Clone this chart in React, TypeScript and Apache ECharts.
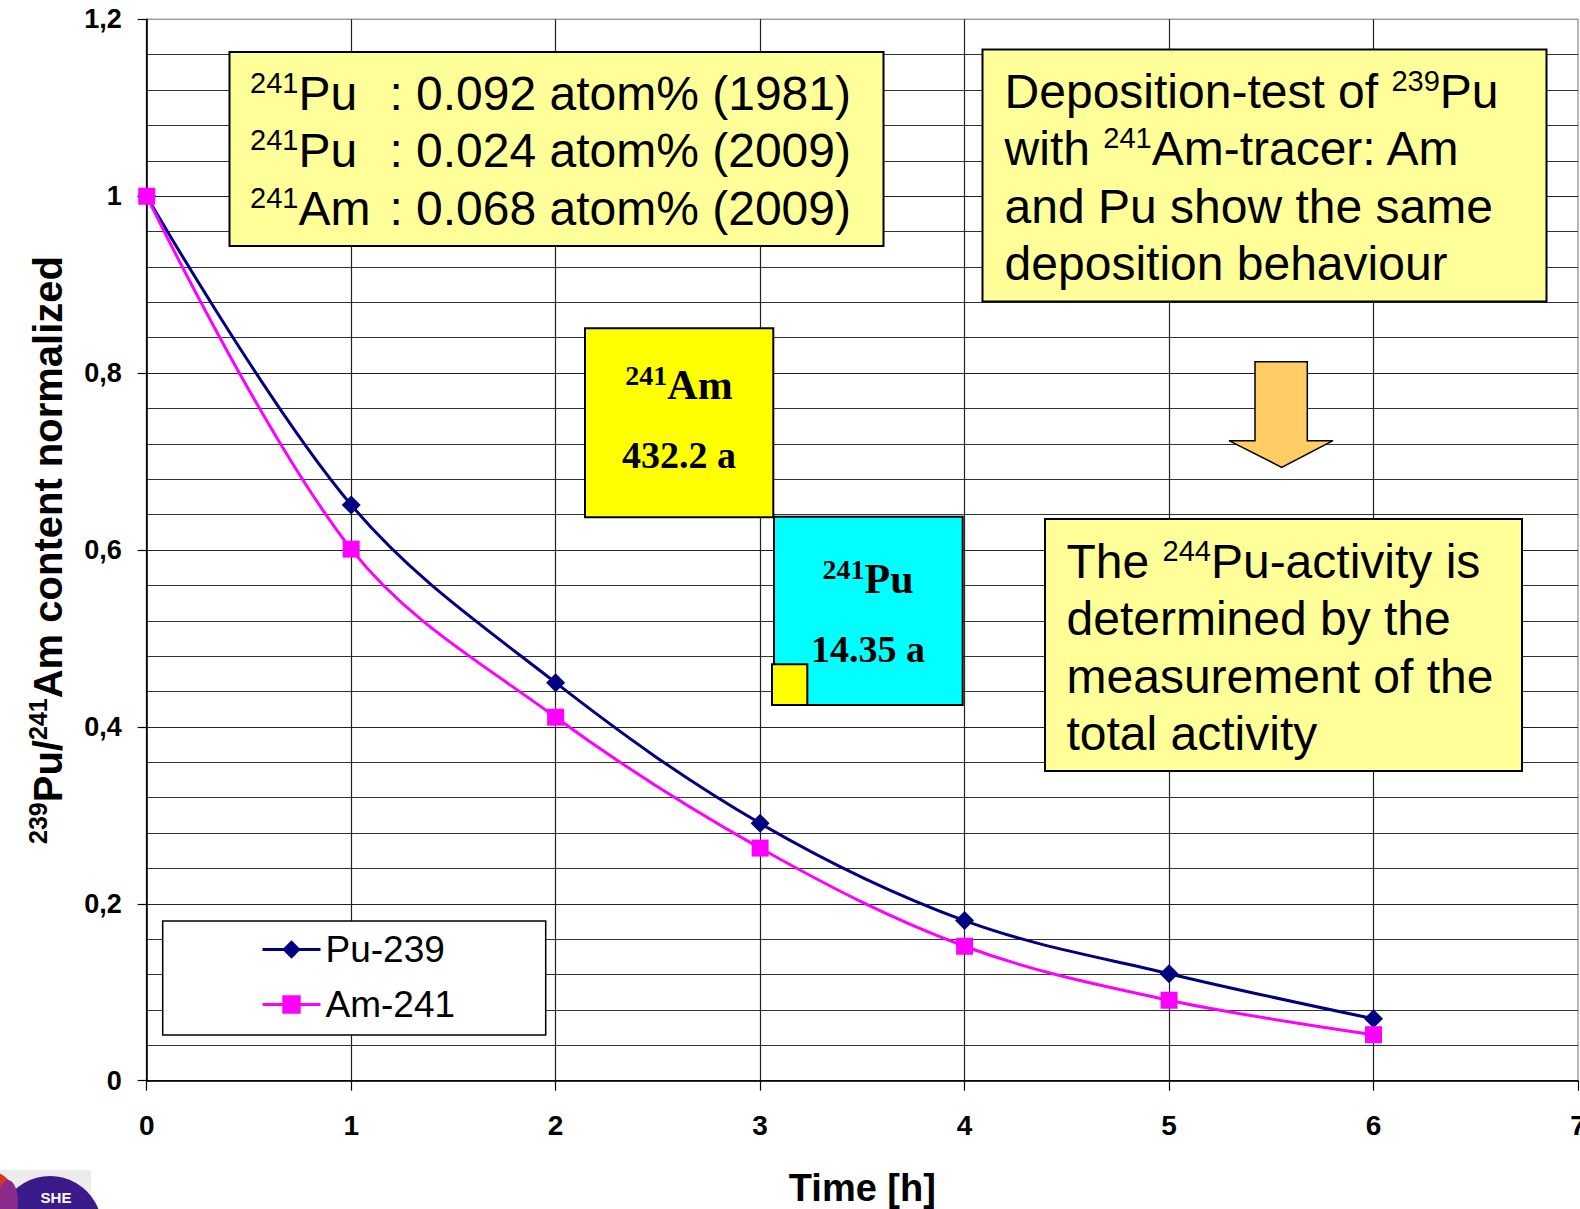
import React, { useEffect, useRef } from 'react';
import * as echarts from 'echarts';

const FONT_SANS = '"Liberation Sans", Arial, sans-serif';
const FONT_SERIF = '"Liberation Serif", "Times New Roman", serif';

// ---- data ----
const timeHours = [0, 1, 2, 3, 4, 5, 6];
const pu239Values = [1, 0.651, 0.45, 0.291, 0.181, 0.121, 0.07];
const am241Values = [1, 0.601, 0.411, 0.263, 0.152, 0.091, 0.052];
const seriesNames = ['Pu-239', 'Am-241'];
const yTickLabels = ['0', '0,2', '0,4', '0,6', '0,8', '1', '1,2'];
const xTickLabels = ['0', '1', '2', '3', '4', '5', '6', '7'];

const isotopeLines = [
  { sup: '241', el: 'Pu', rest: ': 0.092 atom% (1981)' },
  { sup: '241', el: 'Pu', rest: ': 0.024 atom% (2009)' },
  { sup: '241', el: 'Am', rest: ': 0.068 atom% (2009)' },
];
const depositionLines = [
  'Deposition-test of {s|239}Pu',
  'with {s|241}Am-tracer: Am',
  'and Pu show the same',
  'deposition behaviour',
];
const activityLines = [
  'The {s|244}Pu-activity is',
  'determined by the',
  'measurement of the',
  'total activity',
];
const amHalfLife = { sup: '241', el: 'Am', value: '432.2 a' };
const puHalfLife = { sup: '241', el: 'Pu', value: '14.35 a' };

const NOTE_FS = 48;
const supRich = { fontSize: 29, lineHeight: 34, verticalAlign: 'top', fontFamily: FONT_SANS, fill: '#000' };

function noteLines(lines: string[], x: number, y0: number, pitch: number) {
  return lines.map((t, i) => ({
    type: 'text',
    x,
    y: y0 + i * pitch,
    z: 7,
    style: {
      text: t,
      fontSize: NOTE_FS,
      fontFamily: FONT_SANS,
      fill: '#000',
      lineHeight: 50,
      align: 'left',
      verticalAlign: 'middle',
      rich: { s: supRich },
    },
  }));
}

function boxRect(x: number, y: number, w: number, h: number, fill: string, z = 6) {
  return {
    type: 'rect',
    z,
    shape: { x, y, width: w, height: h },
    style: { fill, stroke: '#000', lineWidth: 2 },
  };
}

function halfLifeTexts(d: { sup: string; el: string; value: string }, cx: number, y1: number, y2: number) {
  return [
    {
      type: 'text',
      x: cx,
      y: y1,
      z: 8,
      style: {
        text: `{s|${d.sup}}{m|${d.el}}`,
        align: 'center',
        verticalAlign: 'middle',
        rich: {
          s: { fontSize: 28, fontWeight: 'bold', fontFamily: FONT_SERIF, lineHeight: 31, verticalAlign: 'top', fill: '#000' },
          m: { fontSize: 42, fontWeight: 'bold', fontFamily: FONT_SERIF, lineHeight: 48, fill: '#000' },
        },
      },
    },
    {
      type: 'text',
      x: cx,
      y: y2,
      z: 8,
      style: {
        text: d.value,
        fontSize: 38,
        fontWeight: 'bold',
        fontFamily: FONT_SERIF,
        fill: '#000',
        align: 'center',
        verticalAlign: 'middle',
      },
    },
  ];
}

export default function App() {
  const ref = useRef<HTMLDivElement>(null);

  useEffect(() => {
    if (!ref.current) return;
    const chart = echarts.init(ref.current, undefined, { renderer: 'svg' });

    const graphic: any[] = [
      // info box 1
      boxRect(229.5, 52, 654, 194, '#FFFF99'),
      ...isotopeLines.map((l, i) => ({
        type: 'text',
        x: 250,
        y: 93.3 + i * 57.5,
        z: 7,
        style: {
          text: `{s|${l.sup}}{i|${l.el}}{t|${l.rest}}`,
          align: 'left',
          verticalAlign: 'middle',
          rich: {
            s: supRich,
            i: { fontSize: NOTE_FS, lineHeight: 50, width: 91, fontFamily: FONT_SANS, fill: '#000' },
            t: { fontSize: NOTE_FS, lineHeight: 50, fontFamily: FONT_SANS, fill: '#000' },
          },
        },
      })),
      // box 2
      boxRect(982.5, 49.4, 564, 252, '#FFFF99'),
      ...noteLines(depositionLines, 1004.6, 91, 57.5),
      // box 3
      boxRect(1045, 519, 477, 252, '#FFFF99'),
      ...noteLines(activityLines, 1066.5, 561, 57.5),
      // half-life boxes
      boxRect(585, 328.3, 188.3, 189, '#FFFF00'),
      ...halfLifeTexts(amHalfLife, 679, 385, 455),
      boxRect(774, 516.7, 188.7, 188.3, '#00FFFF'),
      ...halfLifeTexts(puHalfLife, 868, 579, 649),
      boxRect(772, 664.3, 35.3, 40.7, '#FFFF00', 9),
      // arrow
      {
        type: 'polygon',
        z: 6,
        shape: {
          points: [
            [1255, 361.7], [1307.3, 361.7], [1307.3, 440.7], [1333, 440.7],
            [1281.7, 467.3], [1229, 440.7], [1255, 440.7],
          ],
        },
        style: { fill: '#FFCC66', stroke: '#000', lineWidth: 1.5 },
      },
      // legend box
      {
        type: 'rect',
        z: 6,
        shape: { x: 162.7, y: 921, width: 383, height: 114 },
        style: { fill: '#fff', stroke: '#000', lineWidth: 1.5 },
      },
      // logo
      { type: 'rect', z: 6, shape: { x: 0, y: 1170, width: 91, height: 39 }, style: { fill: '#ececec' } },
      { type: 'circle', z: 6, shape: { cx: -14, cy: 1200, r: 30 }, style: { fill: '#d9351f' } },
      { type: 'circle', z: 7, shape: { cx: 50, cy: 1228, r: 52 }, style: { fill: '#3b1a8a' } },
      { type: 'ellipse', z: 8, shape: { cx: 8, cy: 1202, rx: 10, ry: 22 }, style: { fill: '#8a2a8c' } },
      {
        type: 'text',
        z: 9,
        x: 56,
        y: 1197,
        style: { text: 'SHE', fontSize: 15, fontWeight: 'bold', fontFamily: FONT_SANS, fill: '#fff', align: 'center', verticalAlign: 'middle' },
      },
    ];

    chart.setOption({
      animation: false,
      backgroundColor: '#fff',
      grid: {
        left: 146.7,
        right: 2,
        top: 19.3,
        bottom: 128.3,
        show: true,
        borderColor: '#a0a0a0',
        borderWidth: 1.5,
        outerBoundsMode: 'none',
        containLabel: false,
      },
      legend: {
        orient: 'vertical',
        left: 261,
        top: 931,
        padding: 0,
        itemGap: 18,
        itemWidth: 58,
        itemHeight: 23,
        z: 10,
        lineStyle: { width: 3 },
        textStyle: { fontSize: 37, fontFamily: FONT_SANS, color: '#000' },
        data: seriesNames,
      },
      xAxis: {
        type: 'value',
        min: 0,
        max: 7,
        interval: 1,
        name: 'Time [h]',
        nameLocation: 'middle',
        nameGap: 88,
        nameTextStyle: { fontSize: 38, fontWeight: 'bold', fontFamily: FONT_SANS, color: '#000' },
        axisLine: { show: true, onZero: false, lineStyle: { color: '#000', width: 1.5 } },
        axisTick: { show: true, length: 10, lineStyle: { color: '#000', width: 1.2 } },
        axisLabel: {
          margin: 31,
          fontSize: 28,
          fontWeight: 'bold',
          fontFamily: FONT_SANS,
          color: '#000',
          formatter: (v: number) => xTickLabels[Math.round(v)] ?? String(v),
        },
        splitLine: { show: true, showMaxLine: false, lineStyle: { color: '#222', width: 1.2 } },
      },
      yAxis: {
        type: 'value',
        min: 0,
        max: 1.2,
        interval: 0.2,
        name: '{s|239}Pu/{s|241}Am content normalized',
        nameLocation: 'middle',
        nameRotate: 90,
        nameGap: 77,
        nameTextStyle: {
          fontSize: 40,
          fontWeight: 'bold',
          fontFamily: FONT_SANS,
          color: '#000',
          lineHeight: 44,
          rich: {
            s: { fontSize: 25, fontWeight: 'bold', fontFamily: FONT_SANS, lineHeight: 8, verticalAlign: 'top', color: '#000' },
          },
        },
        axisLine: { show: true, lineStyle: { color: '#000', width: 1.5 } },
        axisTick: { show: true, length: 9, lineStyle: { color: '#000', width: 1.2 } },
        minorTick: { show: false, splitNumber: 5 },
        minorSplitLine: { show: true, lineStyle: { color: '#333', width: 1.2 } },
        axisLabel: {
          margin: 25,
          fontSize: 27,
          fontWeight: 'bold',
          fontFamily: FONT_SANS,
          color: '#000',
          formatter: (v: number) => yTickLabels[Math.round(v / 0.2)] ?? String(v),
        },
        splitLine: { show: true, showMaxLine: false, lineStyle: { color: '#222', width: 1.2 } },
      },
      series: [
        {
          name: seriesNames[0],
          type: 'line',
          data: timeHours.map((t, i) => [t, pu239Values[i]]),
          smooth: 0.35,
          symbol: 'diamond',
          symbolSize: 19,
          lineStyle: { color: '#000080', width: 3 },
          itemStyle: { color: '#000080' },
          z: 3,
        },
        {
          name: seriesNames[1],
          type: 'line',
          data: timeHours.map((t, i) => [t, am241Values[i]]),
          smooth: 0.35,
          symbol: 'rect',
          symbolSize: 17,
          lineStyle: { color: '#FF00FF', width: 3 },
          itemStyle: { color: '#FF00FF' },
          z: 4,
        },
      ],
      graphic,
    });

    return () => chart.dispose();
  }, []);

  return <div ref={ref} style={{ position: 'absolute', left: 0, top: 0, width: 1580, height: 1209 }} />;
}
